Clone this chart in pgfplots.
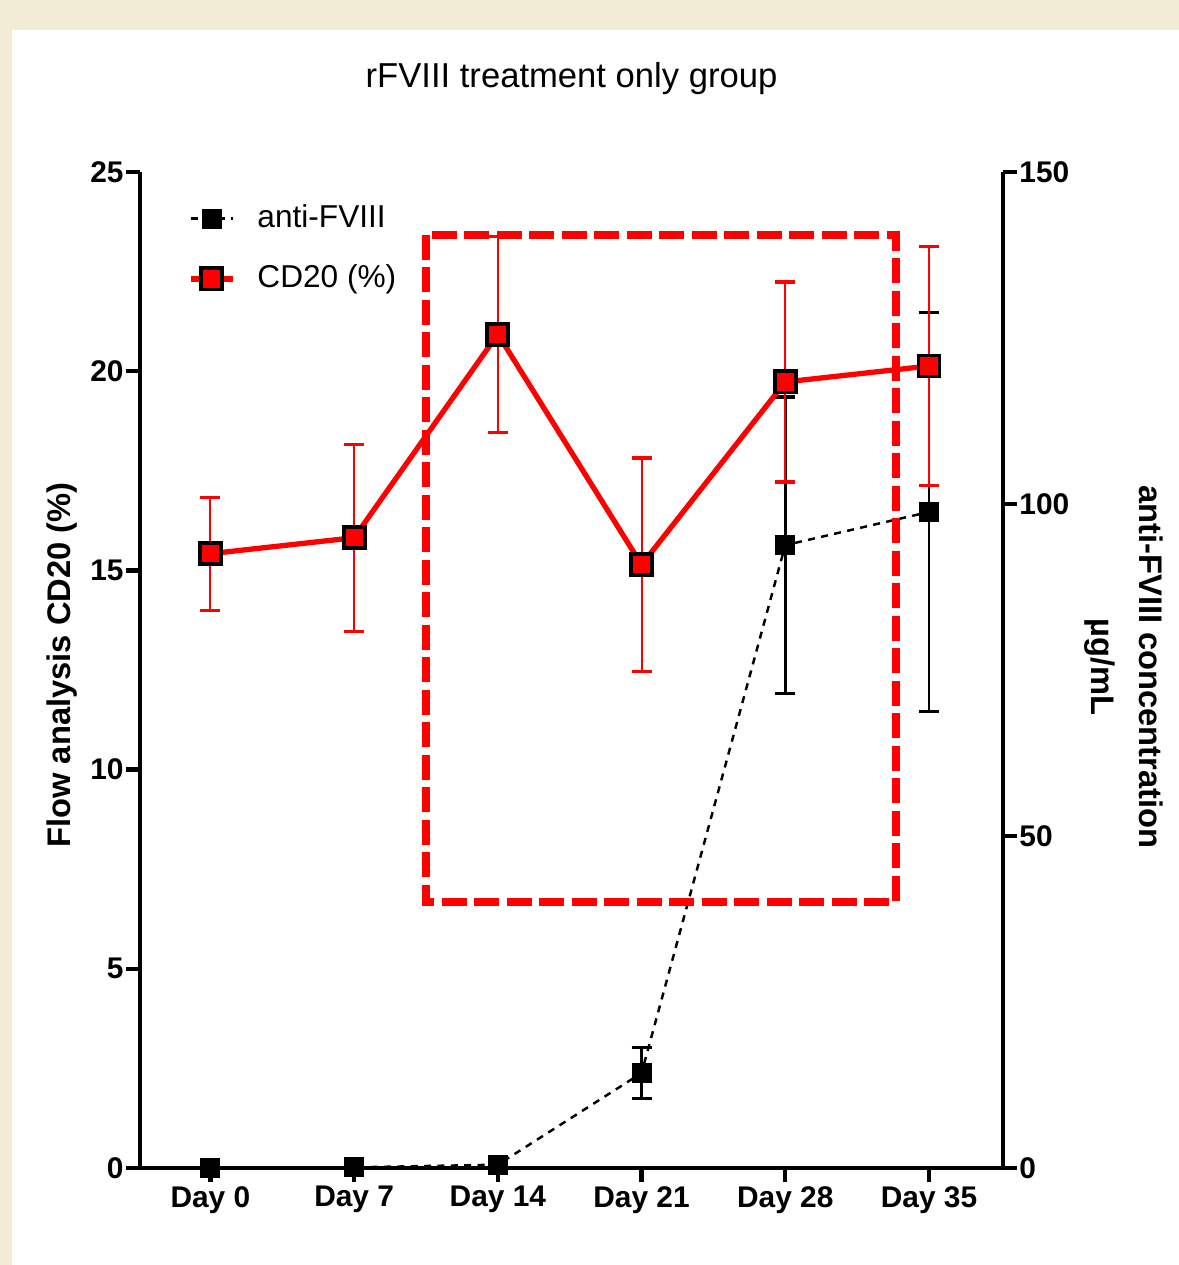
\documentclass[border=0pt]{standalone}
\usepackage{fontspec}
\setmainfont{Liberation Sans}
\usepackage{pgfplots}
\pgfplotsset{compat=1.18}
\usepackage{pgfplotstable}
\definecolor{bg}{HTML}{F2EBD6}
\definecolor{cdred}{HTML}{FF0000}

\pgfplotstableread{
x y e
0 15.42 1.42
1 15.82 2.35
2 20.93 2.46
3 15.14 2.68
4 19.73 2.51
5 20.13 2.99
}\cdtable
\pgfplotstableread{
x y e
0 0.0 0.3
1 0.1 0.3
2 0.5 0.4
3 14.3 3.8
4 93.8 22.3
5 98.8 30.0
}\fviiitable

\pgfplotsset{
  myaxis/.style={
    scale only axis, width=86.3mm, height=99.6mm,
    at={(0,0)}, anchor=south west,
    xmin=-0.49, xmax=5.515, clip=false,
    tick align=outside, major tick length=1.4mm,
    every non boxed x axis/.style={},
    every non boxed y axis/.style={},
    axis line style={-, line width=1.2pt, black},
    tick style={line width=1.2pt, black},
    ticklabel style={font=\bfseries\fontsize{8.5}{10}\selectfont},
    /pgf/number format/assume math mode=true,
  }
}

\begin{document}
\begin{tikzpicture}
\fill[bg] (-14mm,-9.7mm) rectangle (103.9mm,116.8mm);
\fill[white] (-12.8mm,-9.7mm) rectangle (103.9mm,113.8mm);

% right axis: anti-FVIII
\begin{axis}[myaxis,
  axis y line=right, axis x line=none,
  ymin=0, ymax=150, ytick={0,50,100,150},
  yticklabel style={xshift=-1mm},
]
\addplot[black, line width=0.7pt, dash pattern=on 2pt off 1.8pt,
  mark=square*, mark size=2.5pt, mark options={solid, fill=black},
  error bars/.cd, y dir=both, y explicit,
  error bar style={solid, line width=0.7pt, black},
  error mark options={solid, rotate=90, mark size=1mm, line width=0.9pt, black}]
  table[x=x, y=y, y error=e] {\fviiitable};
\end{axis}

% left axis: CD20
\begin{axis}[myaxis,
  axis y line=left, axis x line=bottom,
  ymin=0, ymax=25, ytick={0,5,10,15,20,25},
  yticklabel style={xshift=1mm},
  xticklabel style={yshift=0.8mm},
  xtick={0,1,2,3,4,5},
  xticklabels={Day 0,Day 7,Day 14,Day 21,Day 28,Day 35},
  legend style={draw=none, fill=none, at={(0.055,0.975)}, anchor=north west,
    inner sep=0pt, row sep=1.8mm,
    /tikz/every odd column/.append style={column sep=1.5mm},
    font=\fontsize{9}{11}\selectfont},
  legend cell align=left,
  legend image code/.code={
    \draw[mark repeat=2, mark phase=2, #1] plot coordinates {(0mm,0mm) (2.1mm,0mm) (4.2mm,0mm)};
  },
]
\addlegendimage{black, line width=0.7pt, dash pattern=on 2pt off 1.8pt,
  mark=square*, mark size=2.5pt, mark options={solid, fill=black}}
\addlegendentry{anti-FVIII}
\addplot[cdred, line width=1.5pt,
  mark=square*, mark size=3pt, mark options={fill=cdred, draw=black, line width=1.1pt},
  error bars/.cd, y dir=both, y explicit,
  error bar style={cdred, line width=0.6pt},
  error mark options={cdred, rotate=90, mark size=1mm, line width=0.9pt}]
  table[x=x, y=y, y error=e] {\cdtable};
\addlegendentry{CD20 (\%)}
\draw[cdred, line width=0.8mm, dash pattern=on 2.5mm off 0.75mm]
  (axis cs:1.502,23.42) rectangle (axis cs:4.77,6.68);
\end{axis}

\node[font=\fontsize{9.85}{11}\selectfont] at (43.15mm,108.9mm) {rFVIII treatment only group};
\node[rotate=90, font=\bfseries\fontsize{9.3}{11}\selectfont] at (-7.8mm,50.3mm) {Flow analysis CD20 (\%)};
\node[rotate=-90, align=center, font=\bfseries\fontsize{9.3}{13.6}\selectfont] at (98.4mm,50.1mm) {anti-FVIII concentration\\µg/mL};

\pgfresetboundingbox
\useasboundingbox (-14mm,-9.7mm) rectangle (103.9mm,116.8mm);
\end{tikzpicture}
\end{document}
